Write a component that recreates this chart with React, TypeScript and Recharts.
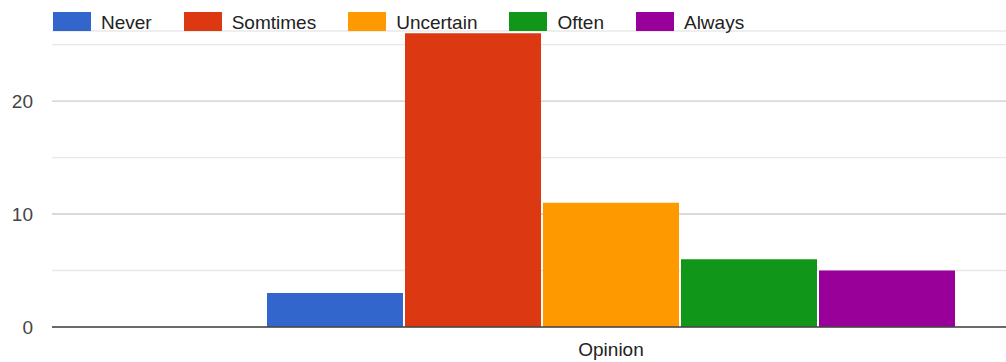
import React from "react";
import { BarChart, Bar, XAxis, YAxis, CartesianGrid, Legend } from "recharts";

const categories = ["Opinion"];
const seriesNames = ["Never", "Somtimes", "Uncertain", "Often", "Always"];
const neverValues = [3];
const somtimesValues = [26];
const uncertainValues = [11];
const oftenValues = [6];
const alwaysValues = [5];
const seriesColors = ["#3366cc", "#dc3912", "#ff9900", "#109618", "#990099"];
const gridTicks = [0, 5, 10, 15, 20, 25];
const labelTicks = [0, 10, 20];

const seriesValues = [neverValues, somtimesValues, uncertainValues, oftenValues, alwaysValues];
const data = categories.map((c, i) => {
  const row: Record<string, string | number> = { category: c };
  seriesNames.forEach((n, s) => {
    row[n] = seriesValues[s][i];
  });
  return row;
});

const FONT = "Arial, 'Liberation Sans', sans-serif";
const DOMAIN: [number, number] = [0, 26.2];

const LegendContent = () => (
  <div style={{ height: 31, position: "relative", fontFamily: FONT }}>
    <div
      style={{
        position: "absolute",
        top: 12,
        left: 53,
        display: "flex",
        alignItems: "center",
        height: 19,
        whiteSpace: "nowrap",
      }}
    >
      {seriesNames.map((n, i) => (
        <div key={n} style={{ display: "flex", alignItems: "center", marginRight: 32 }}>
          <div style={{ width: 38, height: 19, background: seriesColors[i], marginRight: 10 }} />
          <span style={{ fontSize: 19, color: "#222", lineHeight: "19px", position: "relative", top: 1 }}>{n}</span>
        </div>
      ))}
    </div>
  </div>
);

const YTick = (props: any) => {
  const { x, y, payload } = props;
  if (!labelTicks.includes(payload.value)) return <g />;
  return (
    <text x={x} y={y} dy="0.355em" textAnchor="end" fill="#444" fontSize={19} fontFamily={FONT}>
      {payload.value}
    </text>
  );
};

const GridLine = (props: any) => {
  const { x1, x2, y1, y2, index } = props;
  const tickValue = gridTicks[index];
  const isMajor = labelTicks.includes(tickValue);
  return (
    <line
      x1={x1}
      x2={x2}
      y1={y1}
      y2={y2}
      stroke={isMajor ? "#cccccc" : "#e8e8e8"}
      strokeWidth={1.3}
      fill="none"
    />
  );
};

export default function App() {
  return (
    <div
      style={{
        position: "absolute",
        left: 0,
        top: 0,
        width: 1006,
        height: 362,
        overflow: "hidden",
        background: "#fff",
      }}
    >
      <BarChart
        width={1170}
        height={362}
        data={data}
        margin={{ top: 0, right: 0, bottom: 0, left: 0 }}
        barCategoryGap={215}
        barGap={2}
      >
        <CartesianGrid vertical={false} horizontal={(p: any) => <GridLine {...p} />} />
        <Legend verticalAlign="top" wrapperStyle={{ top: 0, left: 0 }} content={<LegendContent />} />
        <XAxis
          dataKey="category"
          tickLine={false}
          tickSize={0}
          tickMargin={16}
          height={35}
          axisLine={{ stroke: "#444", strokeWidth: 1.6 }}
          tick={{ fill: "#222", fontSize: 19, fontFamily: FONT }}
        />
        <YAxis
          type="number"
          domain={DOMAIN}
          ticks={gridTicks}
          width={52}
          axisLine={false}
          tickLine={false}
          tickSize={0}
          tickMargin={19}
          tick={<YTick />}
        />
        {seriesNames.map((n, i) => (
          <Bar key={n} dataKey={n} fill={seriesColors[i]} isAnimationActive={false} />
        ))}
      </BarChart>
    </div>
  );
}
